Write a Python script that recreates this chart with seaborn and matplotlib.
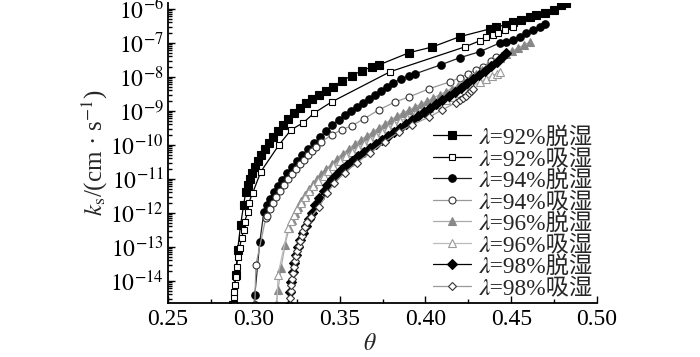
import numpy as np
import matplotlib
matplotlib.use("Agg")
import matplotlib.pyplot as plt
import seaborn as sns
from matplotlib.ticker import FixedLocator, LogLocator, NullFormatter, FuncFormatter, MultipleLocator

# ---------------- data (theta, log10 k_s) ----------------
theta_92d = [0.2880, 0.2894, 0.2906, 0.2923, 0.2941, 0.2953, 0.2965, 0.2976, 0.2988, 0.3006, 0.3023, 0.3041,
             0.3065, 0.3088, 0.3112, 0.3141, 0.3170, 0.3200, 0.3235, 0.3270, 0.3306, 0.3341, 0.3382, 0.3423,
             0.3464, 0.3511, 0.3570, 0.3629, 0.3688, 0.3729, 0.3905, 0.4041, 0.4199, 0.4376, 0.4411, 0.4470,
             0.4511, 0.4558, 0.4611, 0.4646, 0.4699, 0.4746, 0.4787, 0.4817]
logk_92d = [-14.70, -13.82, -13.09, -12.35, -11.76, -11.38, -11.18, -11.00, -10.82, -10.65, -10.47, -10.29,
            -10.12, -9.94, -9.76, -9.59, -9.41, -9.24, -9.06, -8.91, -8.76, -8.65, -8.53, -8.41,
            -8.29, -8.12, -7.97, -7.82, -7.71, -7.65, -7.29, -7.12, -6.82, -6.59, -6.53, -6.47,
            -6.38, -6.32, -6.24, -6.18, -6.12, -6.03, -5.88, -5.82]

theta_92a = [0.2882, 0.2882, 0.2882, 0.2888, 0.2894, 0.2900, 0.2906, 0.2917, 0.2929, 0.2941, 0.2947, 0.2965,
             0.2970, 0.2994, 0.3041, 0.3147, 0.3217, 0.3288, 0.3353, 0.3453, 0.3794, 0.4229, 0.4317, 0.4352,
             0.4393, 0.4423, 0.4464, 0.4511]
logk_92a = [-14.71, -14.47, -14.32, -14.12, -13.88, -13.59, -13.29, -13.03, -12.74, -12.50, -12.26, -11.97,
            -11.71, -11.41, -10.79, -10.00, -9.56, -9.35, -9.06, -8.74, -7.85, -7.12, -6.94, -6.82,
            -6.76, -6.71, -6.62, -6.53]

theta_94d = [0.3006, 0.3006, 0.3035, 0.3059, 0.3076, 0.3094, 0.3117, 0.3141, 0.3164, 0.3194, 0.3223, 0.3253,
             0.3282, 0.3317, 0.3353, 0.3388, 0.3423, 0.3458, 0.3494, 0.3529, 0.3564, 0.3600, 0.3635, 0.3670,
             0.3705, 0.3741, 0.3776, 0.3811, 0.3858, 0.3905, 0.3941, 0.4088, 0.4199, 0.4317, 0.4435, 0.4470,
             0.4511, 0.4552, 0.4587, 0.4629, 0.4670, 0.4699]
logk_94d = [-14.71, -14.41, -12.85, -11.97, -11.76, -11.59, -11.38, -11.21, -11.03, -10.82, -10.65, -10.47,
            -10.29, -10.12, -9.94, -9.76, -9.59, -9.41, -9.26, -9.12, -9.00, -8.88, -8.76, -8.65,
            -8.53, -8.41, -8.29, -8.18, -8.06, -7.97, -7.91, -7.65, -7.44, -7.26, -7.00, -6.97,
            -6.91, -6.82, -6.71, -6.62, -6.53, -6.44]

theta_94a = [0.3006, 0.3012, 0.3070, 0.3076, 0.3094, 0.3112, 0.3129, 0.3153, 0.3176, 0.3200, 0.3223, 0.3247,
             0.3270, 0.3294, 0.3317, 0.3341, 0.3364, 0.3394, 0.3453, 0.3511, 0.3570, 0.3641, 0.3729, 0.3823,
             0.3905, 0.4023, 0.4141, 0.4199, 0.4246, 0.4293, 0.4335, 0.4382, 0.4411]
logk_94a = [-14.71, -13.53, -12.15, -12.09, -11.88, -11.71, -11.53, -11.35, -11.18, -11.00, -10.85, -10.71,
            -10.56, -10.44, -10.29, -10.18, -10.06, -9.91, -9.71, -9.56, -9.44, -9.24, -8.97, -8.74,
            -8.59, -8.35, -8.15, -8.03, -7.91, -7.79, -7.71, -7.53, -7.41]

theta_96d = [0.3129, 0.3141, 0.3159, 0.3182, 0.3206, 0.3223, 0.3241, 0.3259, 0.3276, 0.3300, 0.3323, 0.3347,
             0.3370, 0.3394, 0.3423, 0.3453, 0.3482, 0.3517, 0.3553, 0.3588, 0.3623, 0.3658, 0.3694, 0.3729,
             0.3764, 0.3800, 0.3835, 0.3870, 0.3905, 0.3941, 0.3976, 0.4011, 0.4046, 0.4082, 0.4117, 0.4152,
             0.4188, 0.4223, 0.4258, 0.4293, 0.4329, 0.4364, 0.4399, 0.4435, 0.4470, 0.4505, 0.4540, 0.4576,
             0.4611]
logk_96d = [-14.71, -14.26, -13.62, -12.94, -12.44, -12.21, -12.00, -11.82, -11.65, -11.47, -11.29, -11.15,
            -11.00, -10.85, -10.71, -10.56, -10.41, -10.26, -10.12, -9.97, -9.85, -9.74, -9.62, -9.50,
            -9.38, -9.26, -9.15, -9.06, -8.97, -8.88, -8.79, -8.71, -8.62, -8.53, -8.44, -8.35,
            -8.26, -8.15, -8.03, -7.91, -7.79, -7.68, -7.56, -7.44, -7.32, -7.24, -7.15, -7.06,
            -6.97]

theta_96a = [0.3135, 0.3141, 0.3200, 0.3217, 0.3235, 0.3253, 0.3276, 0.3300, 0.3323, 0.3347, 0.3376, 0.3406,
             0.3435, 0.3464, 0.3500, 0.3535, 0.3570, 0.3606, 0.3641, 0.3676, 0.3711, 0.3747, 0.3782, 0.3817,
             0.3852, 0.3894, 0.3941, 0.3982, 0.4023, 0.4070, 0.4117, 0.4158, 0.4199, 0.4258, 0.4317, 0.4352,
             0.4387, 0.4417, 0.4435]
logk_96a = [-14.71, -13.82, -12.44, -12.24, -12.06, -11.88, -11.71, -11.53, -11.35, -11.21, -11.06, -10.91,
            -10.76, -10.62, -10.47, -10.32, -10.21, -10.09, -9.97, -9.85, -9.74, -9.62, -9.50, -9.38,
            -9.29, -9.21, -9.09, -9.00, -8.91, -8.79, -8.68, -8.59, -8.47, -8.32, -8.15, -8.06,
            -7.97, -7.91, -7.85]

theta_98d = [0.3206, 0.3211, 0.3217, 0.3229, 0.3235, 0.3247, 0.3259, 0.3270, 0.3288, 0.3306, 0.3323, 0.3341,
             0.3358, 0.3382, 0.3406, 0.3429, 0.3453, 0.3482, 0.3511, 0.3541, 0.3570, 0.3606, 0.3641, 0.3676,
             0.3711, 0.3747, 0.3782, 0.3817, 0.3852, 0.3888, 0.3923, 0.3958, 0.3994, 0.4029, 0.4064, 0.4099,
             0.4135, 0.4170, 0.4205, 0.4240, 0.4276, 0.4311, 0.4346, 0.4382, 0.4417, 0.4446, 0.4470]
logk_98d = [-14.71, -14.32, -14.03, -13.74, -13.47, -13.24, -13.00, -12.79, -12.59, -12.38, -12.18, -12.00,
            -11.76, -11.56, -11.35, -11.18, -11.00, -10.85, -10.71, -10.59, -10.47, -10.32, -10.21, -10.09,
            -9.97, -9.85, -9.74, -9.62, -9.50, -9.38, -9.26, -9.15, -9.03, -8.91, -8.79, -8.68,
            -8.56, -8.44, -8.32, -8.18, -8.06, -7.94, -7.82, -7.68, -7.56, -7.41, -7.29]

theta_98a = [0.3211, 0.3211, 0.3217, 0.3217, 0.3223, 0.3229, 0.3235, 0.3241, 0.3247, 0.3253, 0.3264, 0.3270,
             0.3282, 0.3288, 0.3300, 0.3311, 0.3335, 0.3382, 0.3429, 0.3470, 0.3529, 0.3600, 0.3676, 0.3764,
             0.3847, 0.3923, 0.4023, 0.4099, 0.4176, 0.4199, 0.4217, 0.4235, 0.4252, 0.4264, 0.4276]
logk_98a = [-14.71, -14.50, -14.29, -14.12, -13.94, -13.76, -13.59, -13.41, -13.26, -13.12, -12.97, -12.82,
            -12.68, -12.53, -12.41, -12.26, -12.12, -11.82, -11.41, -11.12, -10.82, -10.53, -10.24, -9.91,
            -9.62, -9.41, -9.18, -8.97, -8.76, -8.68, -8.62, -8.56, -8.47, -8.41, -8.35]

labels = ["\U0001D706=92%脱湿", "\U0001D706=92%吸湿", "\U0001D706=94%脱湿", "\U0001D706=94%吸湿",
          "\U0001D706=96%脱湿", "\U0001D706=96%吸湿", "\U0001D706=98%脱湿", "\U0001D706=98%吸湿"]
x_ticks = [0.25, 0.30, 0.35, 0.40, 0.45, 0.50]
y_exponents = [-14, -13, -12, -11, -10, -9, -8, -7, -6]

# ---------------- style ----------------
FAMILY = ["Liberation Serif", "STIXGeneral", "DejaVu Serif", "DejaVu Sans", "Noto Sans CJK SC"]
sns.set_style("ticks")
plt.rcParams["font.family"] = FAMILY
plt.rcParams["mathtext.fontset"] = "stix"
plt.rcParams["axes.unicode_minus"] = True

fig = plt.figure(figsize=(7.0, 3.57), dpi=100)
ax = fig.add_axes([0.24, 0.151, 0.613, 0.841])

series = [
    (theta_92d, logk_92d, "s", "black", "black", "black", 5.4),
    (theta_92a, logk_92a, "s", "black", "white", "black", 5.0),
    (theta_94d, logk_94d, "o", "#222222", "black", "black", 5.4),
    (theta_94a, logk_94a, "o", "#999999", "white", "#333333", 5.0),
    (theta_96d, logk_96d, "^", "#aaaaaa", "#888888", "#888888", 5.6),
    (theta_96a, logk_96a, "^", "#bbbbbb", "white", "#999999", 5.2),
    (theta_98d, logk_98d, "D", "black", "black", "black", 4.8),
    (theta_98a, logk_98a, "D", "#999999", "white", "#333333", 4.4),
]

for (th, lk, mk, lc, fc, ec, ms), lab in zip(series, labels):
    sns.lineplot(x=th, y=10.0 ** np.asarray(lk), ax=ax, sort=False, estimator=None,
                 color=lc, marker=mk, markerfacecolor=fc, markeredgecolor=ec,
                 markersize=ms, markeredgewidth=0.8, linewidth=0.9, label=lab)

ax.set_yscale("log")
ax.set_xlim(0.25, 0.50)
ax.set_ylim(2.2e-15, 1.5e-6)

ax.xaxis.set_major_locator(FixedLocator(x_ticks))
ax.xaxis.set_major_formatter(FuncFormatter(lambda v, p: f"{v:.2f}"))
ax.xaxis.set_minor_locator(MultipleLocator(0.025))
ax.yaxis.set_major_locator(FixedLocator([10.0 ** e for e in y_exponents]))
ax.yaxis.set_major_formatter(FuncFormatter(lambda v, p: r"$10^{%d}$" % int(round(np.log10(v)))))
ax.yaxis.set_minor_locator(LogLocator(base=10, subs=np.arange(2, 10), numticks=30))
ax.yaxis.set_minor_formatter(NullFormatter())

ax.tick_params(which="both", direction="in", colors="black", width=1.0)
ax.tick_params(axis="x", labelsize=17, pad=4)
ax.tick_params(axis="y", labelsize=17, pad=3)
ax.tick_params(which="major", length=5)
ax.tick_params(which="minor", length=3)
for s in ["top", "right"]:
    ax.spines[s].set_visible(False)
for s in ["left", "bottom"]:
    ax.spines[s].set_linewidth(1.3)
    ax.spines[s].set_color("black")

ax.set_xlabel(r"$\theta$", fontsize=17)
ax.xaxis.set_label_coords(0.471, -0.103)
ax.set_ylabel(r"$k_{\mathrm{s}}$/(cm · s$^{-1}$)", fontsize=18, labelpad=0)

leg = ax.legend(loc="lower right", bbox_to_anchor=(1.0, 0.0), frameon=False,
                prop={"family": FAMILY, "size": 16.8},
                handlelength=1.6, handletextpad=0.3, labelspacing=0.0, borderpad=0.1,
                borderaxespad=0.08)

fig.savefig("out.png", dpi=100)
